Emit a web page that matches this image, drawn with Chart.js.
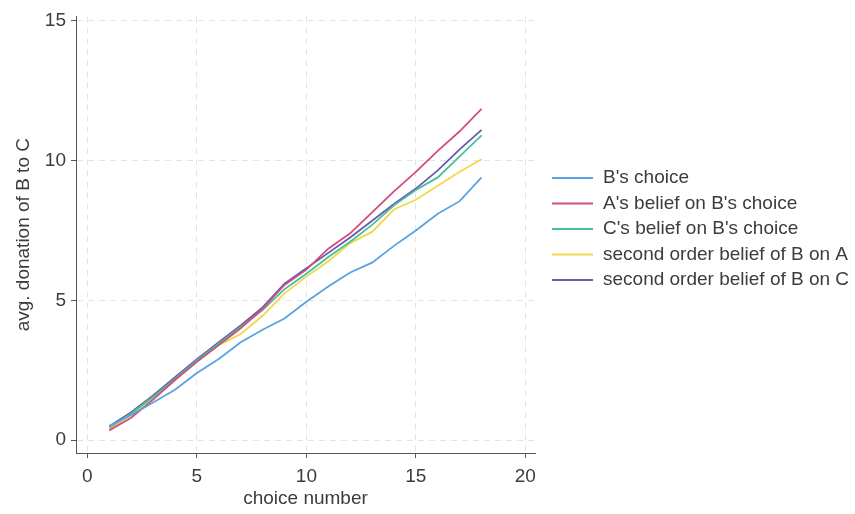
<!DOCTYPE html>
<html>
<head>
<meta charset="utf-8">
<script src="https://cdn.jsdelivr.net/npm/chart.js@4"></script>
<style>
  html, body { margin: 0; padding: 0; background: #fff; }
  #grafico { display: block; }
</style>
</head>
<body>
<canvas id="grafico" width="855" height="514"></canvas>
<script>
// choice number 1..18
const choices = [1, 2, 3, 4, 5, 6, 7, 8, 9, 10, 11, 12, 13, 14, 15, 16, 17, 18];

const bChoice      = [0.50, 0.90, 1.35, 1.80, 2.40, 2.90, 3.50, 3.95, 4.35, 4.95, 5.50, 6.00, 6.35, 6.95, 7.50, 8.10, 8.55, 9.40];
const aBelief      = [0.35, 0.80, 1.45, 2.15, 2.80, 3.40, 4.00, 4.70, 5.55, 6.10, 6.85, 7.40, 8.15, 8.90, 9.60, 10.35, 11.05, 11.85];
const cBelief      = [0.45, 0.95, 1.55, 2.20, 2.85, 3.45, 4.05, 4.65, 5.40, 5.95, 6.55, 7.10, 7.70, 8.40, 8.95, 9.40, 10.15, 10.90];
const secondOrderA = [0.40, 0.90, 1.50, 2.15, 2.80, 3.40, 3.80, 4.45, 5.25, 5.85, 6.40, 7.05, 7.45, 8.25, 8.60, 9.10, 9.60, 10.05];
const secondOrderC = [0.50, 1.00, 1.60, 2.25, 2.90, 3.50, 4.10, 4.75, 5.60, 6.15, 6.70, 7.25, 7.85, 8.45, 9.00, 9.65, 10.40, 11.10];

const seriesLabels = [
  "B's choice",
  "A's belief on B's choice",
  "C's belief on B's choice",
  "second order belief of B on A",
  "second order belief of B on C"
];
const seriesColors = ["#5aa2e2", "#d24c80", "#46c19c", "#f1d84a", "#6a5aa8"];

const xTicks = [0, 5, 10, 15, 20];
const yTicks = [0, 5, 10, 15];
const xTitle = "choice number";
const yTitle = "avg. donation of B to C";

const fonte = '19px "Liberation Sans", Arial, sans-serif';
const corTexto = "#3c3c3c";
const corEixo = "#555555";
const corGrade = "#e4e4e4";

function pontos(valores) {
  return choices.map((x, i) => ({ x: x, y: valores[i] }));
}

const todasSeries = [bChoice, aBelief, cBelief, secondOrderA, secondOrderC];

const datasets = todasSeries.map((valores, i) => ({
  label: seriesLabels[i],
  data: pontos(valores),
  borderColor: seriesColors[i],
  backgroundColor: seriesColors[i],
  borderWidth: 1.8,
  pointRadius: 0,
  tension: 0,
  fill: false
}));

// legenda e titulos dos eixos desenhados a mao
const extras = {
  id: "extras",
  afterDraw(chart) {
    const ctx = chart.ctx;
    ctx.save();
    ctx.font = fonte;
    ctx.fillStyle = corTexto;
    ctx.textBaseline = "middle";
    ctx.textAlign = "left";
    chart.data.datasets.forEach((ds, i) => {
      const y = 178 + i * 25.5;
      ctx.strokeStyle = ds.borderColor;
      ctx.lineWidth = 2;
      ctx.beginPath();
      ctx.moveTo(552, y);
      ctx.lineTo(593, y);
      ctx.stroke();
      ctx.fillText(ds.label, 603, y);
    });

    const area = chart.chartArea;
    ctx.textAlign = "center";
    ctx.fillText(xTitle, (area.left + area.right) / 2, 499);

    ctx.translate(24, (area.top + area.bottom) / 2);
    ctx.rotate(-Math.PI / 2);
    ctx.fillText(yTitle, 0, 0);
    ctx.restore();
  }
};

const eixoComum = {
  type: "linear",
  grid: {
    color: corGrade,
    lineWidth: 1,
    drawTicks: true,
    tickLength: 5,
    tickColor: corEixo,
    tickWidth: 1
  },
  border: { display: true, color: corEixo, width: 1, dash: [6, 5] },
  ticks: { color: corTexto, font: { family: '"Liberation Sans", Arial, sans-serif', size: 19 } }
};

new Chart(document.getElementById("grafico"), {
  type: "line",
  data: { datasets: datasets },
  options: {
    responsive: false,
    animation: false,
    layout: { padding: { left: 0, top: 14, right: 320, bottom: 0 } },
    plugins: {
      legend: { display: false },
      tooltip: { enabled: false }
    },
    scales: {
      x: {
        ...eixoComum,
        min: -0.52,
        max: 20.44,
        ticks: { ...eixoComum.ticks, padding: 7, maxRotation: 0 },
        afterBuildTicks: (scale) => { scale.ticks = xTicks.map(v => ({ value: v })); },
        afterFit: (scale) => { scale.height = 61; }
      },
      y: {
        ...eixoComum,
        min: -0.46,
        max: 15.16,
        ticks: { ...eixoComum.ticks, padding: 5 },
        afterBuildTicks: (scale) => { scale.ticks = yTicks.map(v => ({ value: v })); },
        afterFit: (scale) => { scale.width = 76; }
      }
    }
  },
  plugins: [extras]
});
</script>
</body>
</html>
